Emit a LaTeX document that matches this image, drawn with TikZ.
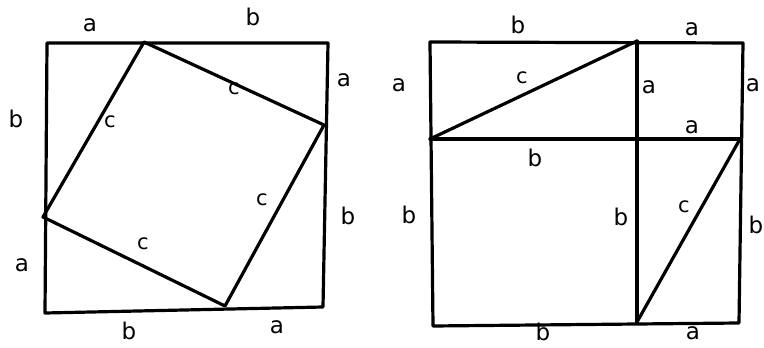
\documentclass[tikz,border=0pt]{standalone}
\usepackage{fontspec}
\setmainfont{DejaVu Sans}
\begin{document}
\begin{tikzpicture}[x=1pt, y=-1pt, line width=3.2pt, line cap=round, line join=round,
	side/.style = {font=\fontsize{23}{26}\selectfont, inner sep=0pt},
	hyp/.style = {font=\fontsize{21}{24}\selectfont, inner sep=0pt}]
		\useasboundingbox (0,0) rectangle (764,348);
		% left square
		\coordinate (L1) at (47,43);
		\coordinate (L2) at (328,43);
		\coordinate (L3) at (323,307);
		\coordinate (L4) at (45,313);
		\coordinate (P1) at (144,42);
		\coordinate (P2) at (324,125);
		\coordinate (P3) at (225,306);
		\coordinate (P4) at (43,217);
		\draw (L1) -- (L2) -- (L3) -- (L4) -- cycle;
		\draw (P1) -- (P2) -- (P3) -- (P4) -- cycle;
		\node[side] (la1) at (90,25) {a};
		\node[side] (lb1) at (253,17) {b};
		\node[side] (la2) at (344,80) {a};
		\node[side] (lb2) at (348,216) {b};
		\node[side] (la3) at (277,327) {a};
		\node[side] (lb3) at (129,331) {b};
		\node[side] (la4) at (22,265) {a};
		\node[side] (lb4) at (16,119) {b};
		\node[hyp] (lc1) at (110,122) {c};
		\node[hyp] (lc2) at (234,89) {c};
		\node[hyp] (lc3) at (262,200) {c};
		\node[hyp] (lc4) at (143,244) {c};
		% right square
		\coordinate (R1) at (430,42);
		\coordinate (R2) at (743,43);
		\coordinate (R3) at (739,323);
		\coordinate (R4) at (433,326);
		\coordinate (Q1) at (637,41);
		\coordinate (Q2) at (637,322);
		\coordinate (Q3) at (430,139);
		\coordinate (Q4) at (740,139);
		\draw (R1) -- (R2) -- (R3) -- (R4) -- cycle;
		\draw (Q1) -- (Q2);
		\draw (Q3) -- (Q4);
		\draw (Q3) -- (Q1);
		\draw (Q2) -- (Q4);
		\node[side] (rb1) at (518,25) {b};
		\node[side] (ra1) at (692,29) {a};
		\node[side] (ra2) at (399,85) {a};
		\node[side] (ra3) at (649,87) {a};
		\node[side] (ra4) at (753,85) {a};
		\node[side] (ra5) at (692,127) {a};
		\node[side] (rb2) at (535,158) {b};
		\node[side] (rb3) at (409,215) {b};
		\node[side] (rb4) at (621,217) {b};
		\node[side] (rb5) at (756,225) {b};
		\node[side] (rb6) at (543,332) {b};
		\node[side] (ra6) at (693,333) {a};
		\node[hyp] (rc1) at (522,78) {c};
		\node[hyp] (rc2) at (684,207) {c};
	\end{tikzpicture}
\end{document}
